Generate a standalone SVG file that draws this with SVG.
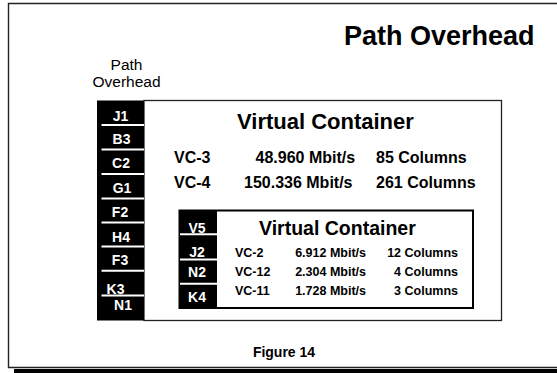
<svg xmlns="http://www.w3.org/2000/svg" width="557" height="373" viewBox="0 0 557 373">
  <style>
    text { font-family: "Liberation Sans", Arial, Helvetica, sans-serif; fill: #000; }
    .b { font-weight: bold; }
    .byte { font-size: 14px; font-weight: bold; fill: #fff; text-anchor: middle; }
    .row { font-size: 16px; font-weight: bold; }
    .srow { font-size: 12.5px; font-weight: bold; }
    .sep { stroke: #fff; stroke-width: 2; }
    .end { text-anchor: end; }
  </style>

  <!-- page frame with drop shadow -->
  <g id="frame">
    <rect x="14" y="369" width="543" height="4" fill="#000"/>
    <path d="M557 3.5 H8.5 V367.5 H557" fill="none" stroke="#222" stroke-width="1.4"/>
  </g>

  <g id="title">
    <text class="b" x="344" y="44.5" font-size="27">Path Overhead</text>
  </g>

  <g id="poh-label">
    <text x="126.5" y="69.5" font-size="15.5" text-anchor="middle">Path</text>
    <text x="126.5" y="87" font-size="15.5" text-anchor="middle">Overhead</text>
  </g>

  <!-- higher-order virtual container -->
  <g id="vc-high">
    <rect x="144" y="100.5" width="357.5" height="220" fill="#fff" stroke="#222" stroke-width="1.3"/>
    <text class="b" x="237" y="129" font-size="22">Virtual Container</text>
    <text class="row" x="174" y="163">VC-3</text>
    <text class="row" x="255.5" y="163">48.960 Mbit/s</text>
    <text class="row" x="376" y="163">85 Columns</text>
    <text class="row" x="174" y="188">VC-4</text>
    <text class="row" x="244" y="188">150.336 Mbit/s</text>
    <text class="row" x="376" y="188">261 Columns</text>
  </g>

  <!-- path overhead bytes column -->
  <g id="poh-bytes">
    <rect x="97" y="100.5" width="47" height="220" fill="#000"/>
    <line class="sep" x1="101.5" y1="125" x2="144" y2="125"/>
    <line class="sep" x1="101.5" y1="149.5" x2="144" y2="149.5"/>
    <line class="sep" x1="101.5" y1="174" x2="144" y2="174"/>
    <line class="sep" x1="101.5" y1="198.5" x2="144" y2="198.5"/>
    <line class="sep" x1="101.5" y1="222.5" x2="144" y2="222.5"/>
    <line class="sep" x1="101.5" y1="246.5" x2="144" y2="246.5"/>
    <line class="sep" x1="101.5" y1="270.8" x2="144" y2="270.8"/>
    <line class="sep" x1="101.5" y1="295.5" x2="144" y2="295.5"/>
    <text class="byte" x="120.5" y="120.5">J1</text>
    <text class="byte" x="121.5" y="143.5">B3</text>
    <text class="byte" x="121" y="168">C2</text>
    <text class="byte" x="122" y="192.5">G1</text>
    <text class="byte" x="120" y="216.5">F2</text>
    <text class="byte" x="121" y="241.5">H4</text>
    <text class="byte" x="120" y="265">F3</text>
    <text class="byte" x="115.5" y="293.5">K3</text>
    <text class="byte" x="123" y="310">N1</text>
  </g>

  <!-- lower-order virtual container -->
  <g id="vc-low">
    <rect x="179.5" y="210.5" width="293.5" height="97.5" fill="#fff" stroke="#000" stroke-width="2"/>
    <text class="b" x="259" y="235" font-size="19.5">Virtual Container</text>
    <text class="srow" x="235" y="257">VC-2</text>
    <text class="srow end" x="366" y="257">6.912 Mbit/s</text>
    <text class="srow end" x="458" y="257">12 Columns</text>
    <text class="srow" x="235" y="275.5">VC-12</text>
    <text class="srow end" x="366" y="275.5">2.304 Mbit/s</text>
    <text class="srow end" x="458" y="275.5">4 Columns</text>
    <text class="srow" x="235" y="294.5">VC-11</text>
    <text class="srow end" x="366" y="294.5">1.728 Mbit/s</text>
    <text class="srow end" x="458" y="294.5">3 Columns</text>
  </g>

  <g id="lo-poh-bytes">
    <rect x="179" y="210" width="38" height="98.5" fill="#000"/>
    <line class="sep" x1="180" y1="234.3" x2="217" y2="234.3"/>
    <line class="sep" x1="180" y1="259.5" x2="217" y2="259.5"/>
    <line class="sep" x1="180" y1="283.8" x2="217" y2="283.8"/>
    <text class="byte" x="197" y="233">V5</text>
    <text class="byte" x="197" y="256.5">J2</text>
    <text class="byte" x="197" y="277">N2</text>
    <text class="byte" x="197" y="301.5">K4</text>
  </g>

  <g id="connectors"/>

  <g id="caption">
    <text class="b" x="284" y="356.5" font-size="14" text-anchor="middle">Figure 14</text>
  </g>
</svg>
